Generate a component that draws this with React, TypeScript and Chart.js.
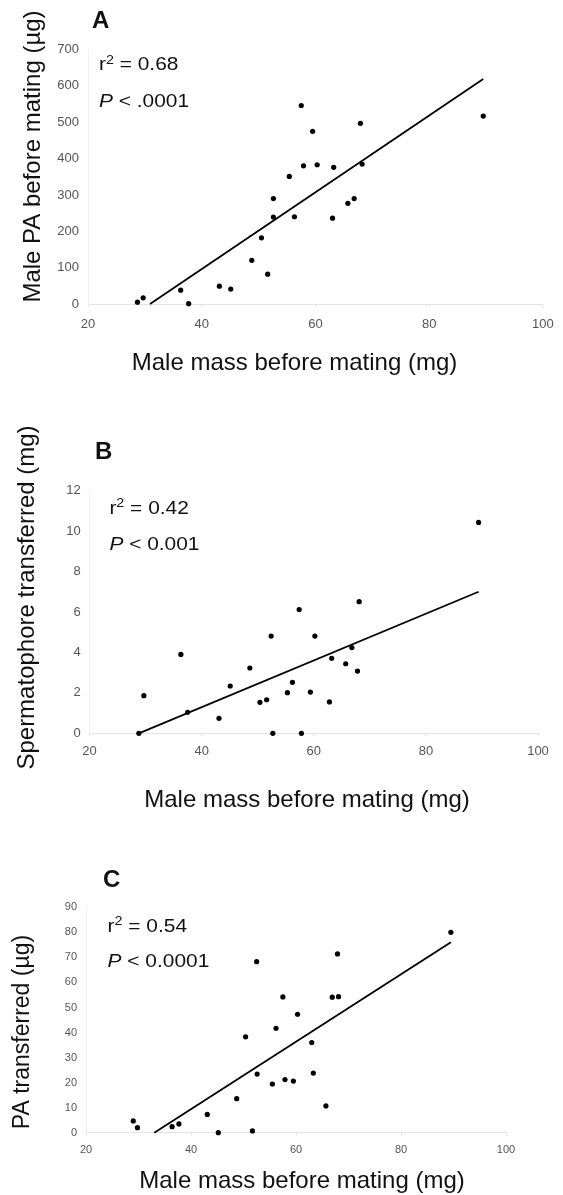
import React, { useEffect, useRef } from "react";
import { Chart, registerables } from "chart.js";

Chart.register(...registerables);

const FONT = "'Liberation Sans', Arial, Helvetica, sans-serif";

// ---------- shared axis ----------
const massTicks = [20, 40, 60, 80, 100];
const xTitle = "Male mass before mating (mg)";

// ---------- Panel A ----------
const massA = [28.7, 29.7, 36.3, 37.7, 43.1, 45.1, 48.8, 50.5, 51.6, 52.6, 52.6, 55.4, 56.3, 57.5, 57.9, 59.5, 60.3, 63.0, 63.2, 65.7, 66.8, 67.9, 68.2, 89.5];
const paBeforeA = [5, 17, 38, 1, 49, 41, 120, 182, 82, 290, 239, 351, 240, 546, 380, 475, 383, 236, 376, 277, 290, 497, 385, 517];
const fitMassA = [30.9, 89.5];
const fitValA = [0, 619];
const yTicksA = [0, 100, 200, 300, 400, 500, 600, 700];
const r2A = "0.68";
const pA = "< .0001";

// ---------- Panel B ----------
const massB = [28.8, 29.7, 36.3, 37.5, 43.1, 45.1, 48.6, 50.4, 51.6, 52.4, 52.7, 55.3, 56.2, 57.4, 57.8, 59.4, 60.2, 62.8, 63.2, 65.7, 66.8, 67.8, 68.1, 89.4];
const spermB = [0, 1.86, 3.9, 1.04, 0.74, 2.34, 3.23, 1.53, 1.66, 4.81, 0, 2.01, 2.52, 6.12, 0, 2.04, 4.81, 1.55, 3.71, 3.44, 4.24, 3.08, 6.51, 10.43];
const fitMassB = [28.8, 89.4];
const fitValB = [0, 7.0];
const yTicksB = [0, 2, 4, 6, 8, 10, 12];
const r2B = "0.42";
const pB = "< 0.001";

// ---------- Panel C ----------
const massC = [29.0, 29.8, 36.4, 37.7, 43.1, 45.2, 48.7, 50.4, 51.7, 52.5, 52.6, 55.5, 56.2, 57.5, 57.9, 59.5, 60.3, 63.0, 63.3, 65.7, 66.9, 67.9, 68.1, 89.5];
const paTransC = [4.7, 2.0, 2.4, 3.5, 7.3, 0, 13.6, 38.3, 0.7, 68.3, 23.4, 19.4, 41.7, 54.2, 21.2, 20.6, 47.3, 36.0, 23.8, 10.7, 54.1, 71.4, 54.3, 80.0];
const fitMassC = [33.0, 89.5];
const fitValC = [0, 76.0];
const yTicksC = [0, 10, 20, 30, 40, 50, 60, 70, 80, 90];
const r2C = "0.54";
const pC = "< 0.0001";

type Spec = {
  top: number;
  height: number;
  letter: string;
  yTitle: string;
  xs: number[];
  ys: number[];
  fitX: number[];
  fitY: number[];
  yTicks: number[];
  r2: string;
  p: string;
  layout: {
    chartLeft: number;
    chartTop: number;
    padRight: number;
    xAxisH: number;
    yTickPad: number;
    xTickPad: number;
    tickSize: number;
    letterX: number;
    letterY: number;
    statX: number;
    r2Y: number;
    pY: number;
    yTitleX: number;
    yTitleY: number;
    yTitleSize: number;
    xTitleX: number;
    xTitleY: number;
  };
};

const specs: Spec[] = [
  {
    top: 0, height: 388, letter: "A", yTitle: "Male PA before mating (\u00b5g)",
    xs: massA, ys: paBeforeA, fitX: fitMassA, fitY: fitValA, yTicks: yTicksA, r2: r2A, p: pA,
    layout: {
      chartLeft: 88, chartTop: 49.5, padRight: 15, xAxisH: 84, yTickPad: 9, xTickPad: 9.2, tickSize: 13,
      letterX: 92, letterY: 21, statX: 99, r2Y: 65, pY: 102,
      yTitleX: 33, yTitleY: 156.5, yTitleSize: 24, xTitleX: 294.5, xTitleY: 363,
    },
  },
  {
    top: 388, height: 427, letter: "B", yTitle: "Spermatophore transferred (mg)",
    xs: massB, ys: spermB, fitX: fitMassB, fitY: fitValB, yTicks: yTicksB, r2: r2B, p: pB,
    layout: {
      chartLeft: 89.5, chartTop: 102.7, padRight: 25, xAxisH: 81.7, yTickPad: 8.8, xTickPad: 7.6, tickSize: 13,
      letterX: 95, letterY: 64.5, statX: 109.4, r2Y: 120.3, pY: 157,
      yTitleX: 27, yTitleY: 209.5, yTitleSize: 24, xTitleX: 307, xTitleY: 412,
    },
  },
  {
    top: 815, height: 380, letter: "C", yTitle: "PA transferred (\u00b5g)",
    xs: massC, ys: paTransC, fitX: fitMassC, fitY: fitValC, yTicks: yTicksC, r2: r2C, p: pC,
    layout: {
      chartLeft: 86, chartTop: 92.3, padRight: 57, xAxisH: 62.3, yTickPad: 9, xTickPad: 7.7, tickSize: 11,
      letterX: 103, letterY: 65, statX: 107.6, r2Y: 111.7, pY: 146.7,
      yTitleX: 23, yTitleY: 217, yTitleSize: 23, xTitleX: 302, xTitleY: 366,
    },
  },
];

const STAT_SIZE = 19;
const STAT_STRETCH = 1.1;

function drawStretched(ctx: CanvasRenderingContext2D, text: string, x: number, y: number, font: string, sx: number): number {
  ctx.save();
  ctx.font = font;
  ctx.textBaseline = "middle";
  ctx.textAlign = "left";
  ctx.translate(x, y);
  ctx.scale(sx, 1);
  ctx.fillText(text, 0, 0);
  const w = ctx.measureText(text).width * sx;
  ctx.restore();
  return w;
}

function Panel({ spec }: { spec: Spec }) {
  const ref = useRef<HTMLCanvasElement | null>(null);

  useEffect(() => {
    const canvas = ref.current;
    if (!canvas) return;
    const L = spec.layout;

    const textPlugin = {
      id: "panelText",
      afterDraw(chart: any) {
        const ctx: CanvasRenderingContext2D = chart.ctx;
        ctx.save();
        ctx.fillStyle = "#111";
        // panel letter
        drawStretched(ctx, spec.letter, L.letterX, L.letterY, `bold 24px ${FONT}`, 1);
        // r^2 line
        let x = L.statX;
        x += drawStretched(ctx, "r", x, L.r2Y, `${STAT_SIZE}px ${FONT}`, STAT_STRETCH);
        x += drawStretched(ctx, "2", x, L.r2Y - 5, `${Math.round(STAT_SIZE * 0.68)}px ${FONT}`, STAT_STRETCH);
        drawStretched(ctx, " = " + spec.r2, x, L.r2Y, `${STAT_SIZE}px ${FONT}`, STAT_STRETCH);
        // P line
        x = L.statX;
        x += drawStretched(ctx, "P", x, L.pY, `italic ${STAT_SIZE}px ${FONT}`, STAT_STRETCH);
        drawStretched(ctx, " " + spec.p, x, L.pY, `${STAT_SIZE}px ${FONT}`, STAT_STRETCH);
        // y title
        ctx.save();
        ctx.translate(L.yTitleX, L.yTitleY);
        ctx.rotate(-Math.PI / 2);
        ctx.font = `${L.yTitleSize}px ${FONT}`;
        ctx.textAlign = "center";
        ctx.textBaseline = "middle";
        ctx.fillText(spec.yTitle, 0, 0);
        ctx.restore();
        // x title
        ctx.font = `24px ${FONT}`;
        ctx.textAlign = "center";
        ctx.textBaseline = "middle";
        ctx.fillText(xTitle, L.xTitleX, L.xTitleY);
        ctx.restore();
      },
    };

    const points = spec.xs.map((v, i) => ({ x: v, y: spec.ys[i] }));
    const fit = spec.fitX.map((v, i) => ({ x: v, y: spec.fitY[i] }));
    const yT = spec.yTicks;

    const chart = new Chart(canvas, {
      type: "scatter",
      data: {
        datasets: [
          {
            data: fit,
            showLine: true,
            borderColor: "#000",
            borderWidth: 1.8,
            pointRadius: 0,
            clip: false,
          } as any,
          {
            data: points,
            backgroundColor: "#000",
            borderColor: "#000",
            borderWidth: 0,
            pointRadius: 2.6,
            clip: false,
          } as any,
        ],
      },
      options: {
        responsive: false,
        animation: false,
        devicePixelRatio: 1,
        events: [],
        layout: { padding: { left: 0, right: L.padRight, top: L.chartTop, bottom: 0 } },
        plugins: { legend: { display: false }, tooltip: { enabled: false }, title: { display: false } },
        scales: {
          x: {
            type: "linear",
            min: massTicks[0],
            max: massTicks[massTicks.length - 1],
            ticks: {
              stepSize: massTicks[1] - massTicks[0],
              color: "#555",
              padding: L.xTickPad,
              font: { family: FONT, size: L.tickSize },
              maxRotation: 0,
            },
            grid: { display: true, drawOnChartArea: false, drawTicks: true, tickLength: 3, color: "#e3e3e3" },
            border: { display: true, color: "#e3e3e3", width: 1 },
            afterFit: (scale: any) => {
              scale.height = L.xAxisH;
            },
          },
          y: {
            type: "linear",
            min: yT[0],
            max: yT[yT.length - 1],
            ticks: {
              stepSize: yT[1] - yT[0],
              color: "#555",
              padding: L.yTickPad,
              font: { family: FONT, size: L.tickSize },
            },
            grid: { display: false, drawTicks: false },
            border: { display: true, color: "#f1f1f1", width: 1 },
            afterFit: (scale: any) => {
              scale.width = L.chartLeft;
            },
          },
        },
      } as any,
      plugins: [textPlugin],
    });

    return () => chart.destroy();
  }, [spec]);

  return (
    <canvas
      ref={ref}
      width={563}
      height={spec.height}
      style={{ position: "absolute", left: 0, top: spec.top, width: 563, height: spec.height }}
    />
  );
}

export default function App() {
  return (
    <div style={{ position: "absolute", left: 0, top: 0, width: 563, height: 1195, background: "#fff" }}>
      {specs.map((s) => (
        <Panel key={s.letter} spec={s} />
      ))}
    </div>
  );
}
